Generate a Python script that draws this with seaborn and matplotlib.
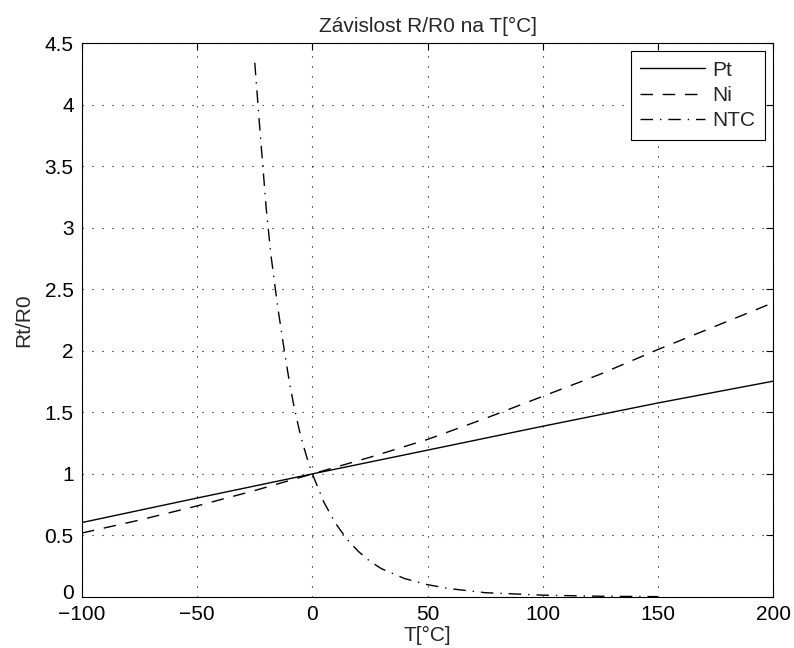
import matplotlib
matplotlib.use("Agg")

import matplotlib.pyplot as plt
import matplotlib.transforms as mtransforms
import pandas as pd
import seaborn as sns

# Values
t_pt = [-100, -50, 0, 50, 100, 150, 200]
r_pt = [0.605, 0.804, 1.0, 1.193, 1.387, 1.576, 1.753]

t_ni = [-100, -75, -50, -25, 0, 25, 50, 75, 100, 125, 150, 175, 200]
r_ni = [0.52, 0.625, 0.74, 0.865, 1.0, 1.135, 1.28, 1.45, 1.63, 1.81, 2.01, 2.20, 2.39]

t_ntc = [-25, -23, -20, -18, -15, -12, -10, -8, -5, -2, 0, 5, 10, 15, 20, 25, 30, 40,
         50, 60, 75, 100, 125, 150]
r_ntc = [4.34, 3.85, 3.15, 2.78, 2.35, 1.98, 1.75, 1.55, 1.30, 1.11, 1.0, 0.77, 0.60,
         0.47, 0.37, 0.29, 0.23, 0.15, 0.10, 0.067, 0.035, 0.015, 0.006, 0.003]

sns.set_style("white")
plt.rcParams["font.family"] = ["Liberation Sans", "DejaVu Sans"]
plt.rcParams["font.size"] = 15

fig = plt.figure(figsize=(7.94, 6.48), dpi=100)
ax = fig.add_axes([0.1033, 0.0787, 0.8703, 0.8549])

df_pt = pd.DataFrame({"T": t_pt, "R": r_pt})
df_ni = pd.DataFrame({"T": t_ni, "R": r_ni})
df_ntc = pd.DataFrame({"T": t_ntc, "R": r_ntc})

sns.lineplot(data=df_pt, x="T", y="R", ax=ax, color="black", lw=1.0, label="Pt")
sns.lineplot(data=df_ni, x="T", y="R", ax=ax, color="black", lw=1.0,
             linestyle=(0, (9, 7)), label="Ni")
sns.lineplot(data=df_ntc, x="T", y="R", ax=ax, color="black", lw=1.0,
             linestyle=(0, (9, 5, 1, 5)), label="NTC")

ax.set_xlim(-100, 200)
ax.set_ylim(0, 4.5)
ax.set_xticks([-100, -50, 0, 50, 100, 150, 200])
ax.set_yticks([0, 0.5, 1, 1.5, 2, 2.5, 3, 3.5, 4, 4.5])
ax.set_xticklabels(["\u2212100", "\u221250", "0", "50", "100", "150", "200"])
ax.set_yticklabels(["0", "0.5", "1", "1.5", "2", "2.5", "3", "3.5", "4", "4.5"])
ax.tick_params(direction="in", length=5, width=0.8, top=True, right=True,
               labelsize=15, colors="black")
ax.tick_params(axis="x", pad=6)
ax.tick_params(axis="y", pad=6)
ax.grid(True, color="black", linestyle=(0, (1, 8)), linewidth=0.8)
for s in ax.spines.values():
    s.set_color("black")
    s.set_linewidth(0.8)

# lift the bottom "0" a bit so it doesn't run into "-100"
lbl0 = ax.get_yticklabels()[0]
lbl0.set_transform(lbl0.get_transform() +
                   mtransforms.ScaledTranslation(0, 4 / 72, fig.dpi_scale_trans))

ax.set_xlabel("T[°C]", fontsize=15, labelpad=1)
ax.set_ylabel("Rt/R0", fontsize=15, labelpad=8)
ax.set_title("Závislost R/R0 na T[°C]", fontsize=15, pad=8)

leg = ax.legend(loc="upper right", fancybox=False, frameon=True, handlelength=3.1,
                fontsize=15, borderaxespad=0.4, borderpad=0.45, labelspacing=0.3,
                handletextpad=0.35)
leg.get_frame().set_edgecolor("black")
leg.get_frame().set_linewidth(0.8)
leg.get_frame().set_alpha(1)

fig.savefig("out.png", dpi=100)
plt.close(fig)
